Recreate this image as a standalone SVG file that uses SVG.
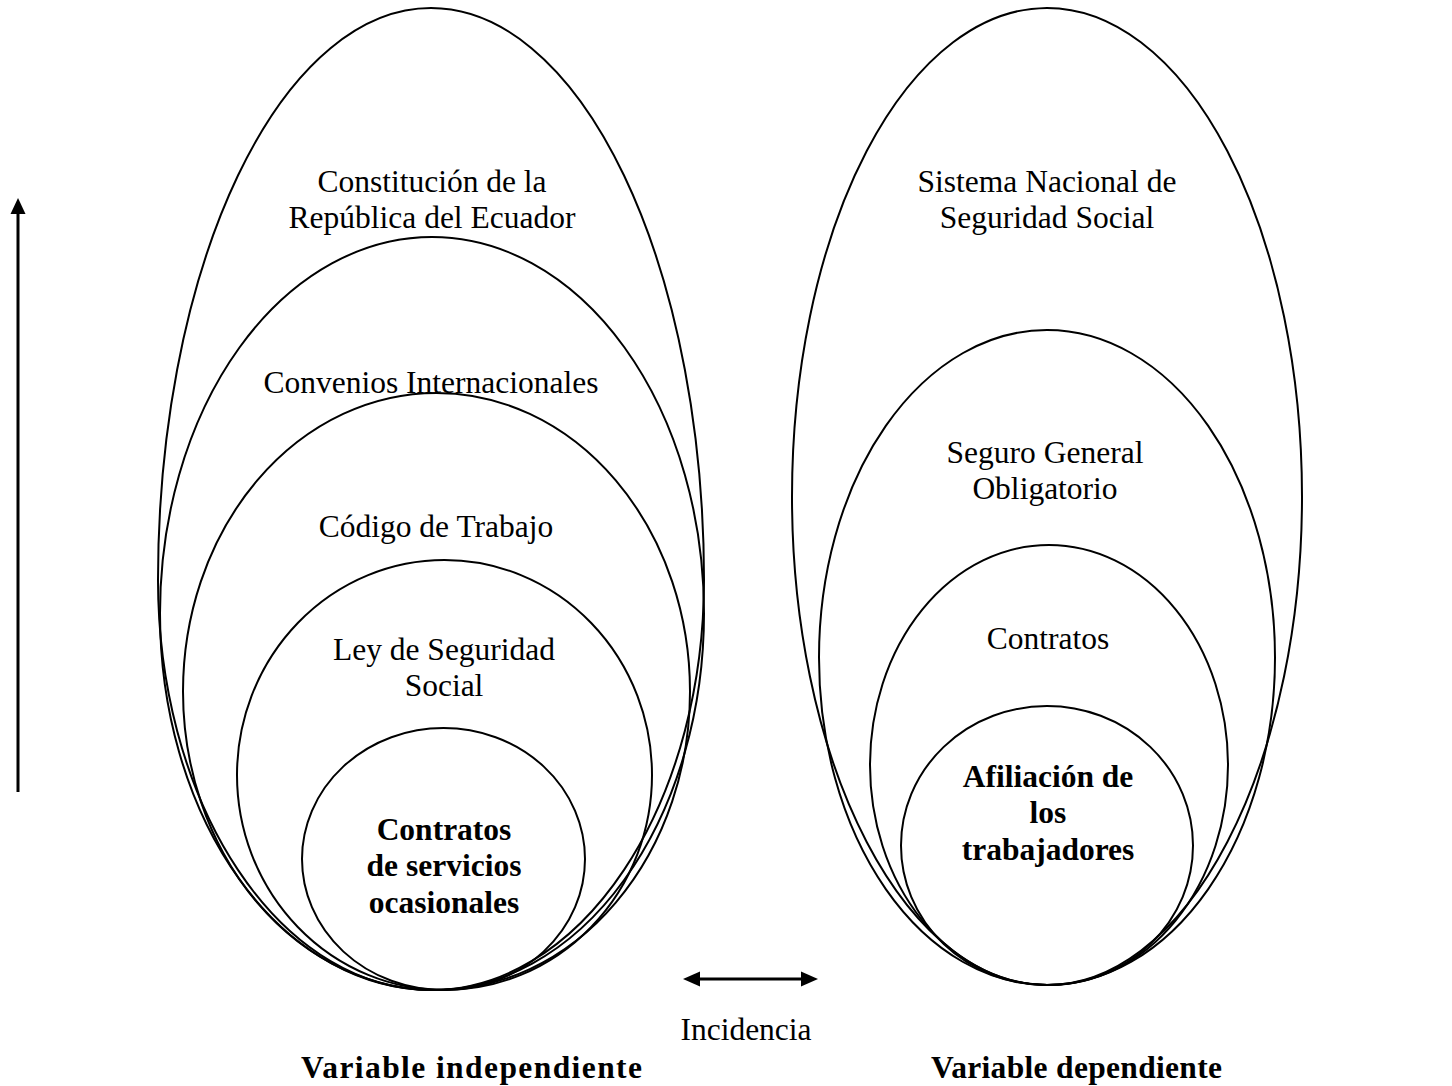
<svg xmlns="http://www.w3.org/2000/svg" width="1452" height="1086" viewBox="0 0 1452 1086">
<style>
.e{fill:none;stroke:#000;stroke-width:2}
.t{font-family:"Liberation Serif","Times New Roman",serif;font-size:31.5px;fill:#000;text-anchor:middle}
.b{font-weight:bold}
.c{stroke:#000;stroke-width:3;fill:none}
</style>
<rect width="1452" height="1086" fill="#fff"/>
<g id="left-group">
<g id="n-constitucion"><path class="e" d="M431,8 A273,572 0 0 0 158,580 A273,410 0 0 0 431,990 A273,410 0 0 0 704,580 A273,572 0 0 0 431,8 Z"/>
<text class="t" x="432" y="192">Constitución de la</text><text class="t" x="432" y="228">República del Ecuador</text></g>
<g id="n-convenios"><ellipse class="e" cx="432" cy="613.5" rx="272" ry="376.5"/>
<text class="t" x="431" y="393">Convenios Internacionales</text></g>
<g id="n-codigo"><ellipse class="e" cx="436.5" cy="691.5" rx="253.5" ry="298.5"/>
<text class="t" x="436" y="537">Código de Trabajo</text></g>
<g id="n-ley"><ellipse class="e" cx="444.5" cy="775" rx="207.5" ry="215"/>
<text class="t" x="444" y="660">Ley de Seguridad</text><text class="t" x="444" y="696">Social</text></g>
<g id="n-contratos-servicios"><ellipse class="e" cx="443.5" cy="859" rx="141.5" ry="131"/>
<text class="t b" x="444" y="840">Contratos</text><text class="t b" x="444" y="876">de servicios</text><text class="t b" x="444" y="913">ocasionales</text></g>
</g>
<g id="right-group">
<g id="n-sistema"><ellipse class="e" cx="1047" cy="496.5" rx="255" ry="488.5"/>
<text class="t" x="1047" y="192">Sistema Nacional de</text><text class="t" x="1047" y="228">Seguridad Social</text></g>
<g id="n-seguro"><ellipse class="e" cx="1047" cy="657.5" rx="228" ry="327.5"/>
<text class="t" x="1045" y="463">Seguro General</text><text class="t" x="1045" y="499">Obligatorio</text></g>
<g id="n-contratos"><ellipse class="e" cx="1049" cy="765" rx="179" ry="220"/>
<text class="t" x="1048" y="649">Contratos</text></g>
<g id="n-afiliacion"><ellipse class="e" cx="1047" cy="845.5" rx="146" ry="139.5"/>
<text class="t b" x="1048" y="787">Afiliación de</text><text class="t b" x="1048" y="823">los</text><text class="t b" x="1048" y="860">trabajadores</text></g>
</g>
<g id="connectors">
<line class="c" x1="18" y1="792" x2="18" y2="210"/>
<polygon points="18,198 10.5,214 25.5,214" fill="#000"/>
<line class="c" x1="697" y1="979" x2="804" y2="979"/>
<polygon points="683,979 700,971.5 700,986.5" fill="#000"/>
<polygon points="818,979 801,971.5 801,986.5" fill="#000"/>
</g>
<text class="t" x="746" y="1040">Incidencia</text>
<text class="t b" x="471.5" y="1078" textLength="341" lengthAdjust="spacing">Variable independiente</text>
<text class="t b" x="1076.5" y="1078" textLength="291" lengthAdjust="spacing">Variable dependiente</text>
</svg>
